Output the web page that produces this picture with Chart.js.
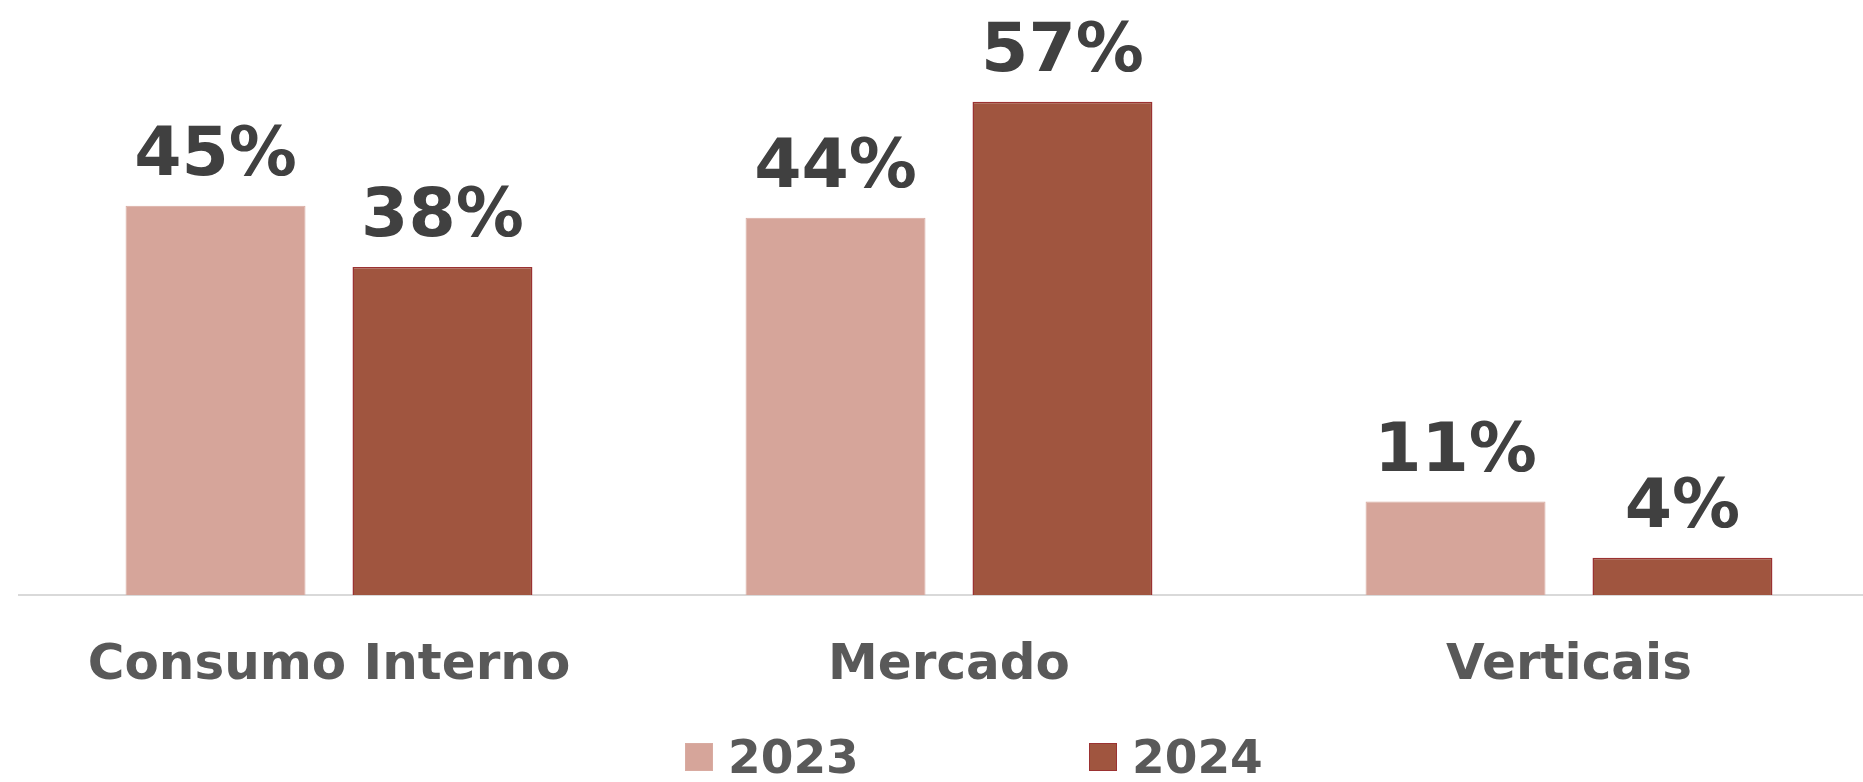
<!DOCTYPE html>
<html>
<head>
<meta charset="utf-8">
<script src="https://cdn.jsdelivr.net/npm/chart.js@4/dist/chart.umd.min.js"></script>
<style>
    body { margin: 0; overflow: hidden; background: #fff; }
    #wrap { position: relative; width: 1880px; height: 782px; }
    #legend { position: absolute; left: 685px; top: 729px; display: flex; font-family: 'DejaVu Sans', sans-serif; }
    .item { display: flex; align-items: center; width: 404px; }
    .box { width: 28px; height: 28px; box-sizing: border-box; margin-right: 15px; }
    .txt { font-size: 47px; font-weight: bold; color: #595959; }
</style>
</head>
<body>
<div id="wrap">
    <canvas id="chart"></canvas>
    <div id="legend"></div>
</div>
<script>
// カテゴリと系列
const categories = ['Consumo Interno', 'Mercado', 'Verticais'];
const seriesNames = ['2023', '2024'];
const values2023 = [45, 43.6, 10.8];
const values2024 = [37.9, 57, 4.3];

const FONT = "'DejaVu Sans', sans-serif";

// 棒の上に値ラベルを描く
const valueLabels = {
    id: 'valueLabels',
    afterDatasetsDraw(chart) {
        const ctx = chart.ctx;
        ctx.save();
        ctx.font = 'bold 68px ' + FONT;
        ctx.fillStyle = '#404040';
        ctx.textAlign = 'center';
        ctx.textBaseline = 'alphabetic';
        chart.data.datasets.forEach((ds, i) => {
            chart.getDatasetMeta(i).data.forEach((bar, j) => {
                ctx.fillText(Math.round(ds.data[j]) + '%', bar.x, bar.y - 31);
            });
        });
        ctx.restore();
    }
};

const ctx = document.getElementById('chart').getContext('2d');
const chart = new Chart(ctx, {
    type: 'bar',
    data: {
        labels: categories,
        datasets: [{
            label: seriesNames[0],
            data: values2023,
            backgroundColor: '#D6A59A',
            borderColor: '#D9ABA1',
            borderWidth: 1
        }, {
            label: seriesNames[1],
            data: values2024,
            backgroundColor: '#A0553F',
            borderColor: '#9B3232',
            borderWidth: 1.5
        }]
    },
    options: {
        responsive: true,
        maintainAspectRatio: false,
        animation: false,
        devicePixelRatio: 1,
        layout: { padding: { left: 19, right: 1, top: 20, bottom: 45 } },
        datasets: {
            bar: { categoryPercentage: 0.732, barPercentage: 0.793 }
        },
        scales: {
            y: { display: false, min: 0, max: 66.46 },
            x: {
                grid: { display: false, drawTicks: false },
                border: { color: '#D9D9D9', width: 2 },
                ticks: {
                    color: '#595959',
                    padding: 41,
                    font: { family: FONT, size: 50, weight: 'bold' }
                }
            }
        },
        plugins: {
            legend: { display: false },
            tooltip: { enabled: false }
        }
    },
    plugins: [valueLabels]
});

// HTML凡例
const legendEl = document.getElementById('legend');
chart.data.datasets.forEach(ds => {
    const item = document.createElement('div');
    item.className = 'item';
    const box = document.createElement('span');
    box.className = 'box';
    box.style.background = ds.backgroundColor;
    box.style.border = '1.5px solid ' + ds.borderColor;
    const txt = document.createElement('span');
    txt.className = 'txt';
    txt.textContent = ds.label;
    item.appendChild(box);
    item.appendChild(txt);
    legendEl.appendChild(item);
});
</script>
</body>
</html>
